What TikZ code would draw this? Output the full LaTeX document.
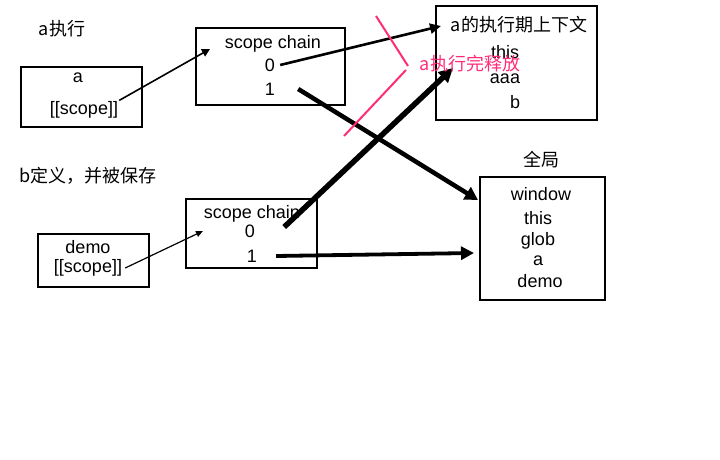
\documentclass[tikz,border=0pt]{standalone}
\usepackage{fontspec}
\setmainfont{Liberation Sans}
\newfontfamily\cjk{Noto Sans CJK SC}
\usetikzlibrary{arrows.meta}
\definecolor{releasepink}{RGB}{255,45,120}
\tikzstyle{frame}=[rectangle, draw, line width=2.5pt]
\tikzstyle{txt}=[inner sep=1pt, font=\fontsize{18}{21}\selectfont]
\tikzstyle{cjktxt}=[inner sep=1pt, font=\fontsize{18}{21}\selectfont\cjk]

\begin{document}
\begin{tikzpicture}[x=1pt, y=-1pt]
                    \useasboundingbox (0,0) rectangle (720,460);
                    % boxes
                    \node[frame, minimum width=121pt, minimum height=60pt] (abox) at (81.5,97) {};
                    \node[frame, minimum width=149pt, minimum height=77pt] (chaina) at (270.5,66.5) {};
                    \node[frame, minimum width=161pt, minimum height=114pt] (ctx) at (516.5,63) {};
                    \node[frame, minimum width=125pt, minimum height=123pt] (global) at (542.5,238.5) {};
                    \node[frame, minimum width=131pt, minimum height=69pt] (chainb) at (251.5,233.5) {};
                    \node[frame, minimum width=111pt, minimum height=53pt] (demobox) at (93.5,260.5) {};
                    % captions
                    \node[cjktxt] (runa) at (62,29) {a执行};
                    \node[cjktxt] (defb) at (88,176) {b定义，并被保存};
                    \node[cjktxt] (globtitle) at (541,160) {全局};
                    % texts in boxes
                    \node[txt] (aname) at (78,78) {a};
                    \node[txt] (ascope) at (84,110) {[[scope]]};
                    \node[txt] (chainatitle) at (273,44) {scope chain};
                    \node[txt] (chaina0) at (270,65) {0};
                    \node[txt] (chaina1) at (270,89) {1};
                    \node[cjktxt] (ctxtitle) at (519,25) {a的执行期上下文};
                    \node[txt] (ctxthis) at (505,52) {this};
                    \node[txt] (ctxaaa) at (505,79) {aaa};
                    \node[txt] (ctxb) at (515,102) {b};
                    \node[txt] (gwin) at (541,194) {window};
                    \node[txt] (gthis) at (538,218) {this};
                    \node[txt] (gglob) at (538,241) {glob};
                    \node[txt] (ga) at (538,261) {a};
                    \node[txt] (gdemo) at (540,281) {demo};
                    \node[txt] (chainbtitle) at (252,214) {scope chain};
                    \node[txt] (chainb0) at (250,231) {0};
                    \node[txt] (chainb1) at (252,256) {1};
                    \node[txt] (dname) at (88,247) {demo};
                    \node[txt] (dscope) at (88,268) {[[scope]]};
                    % arrow ends
                    \coordinate (a-in) at (210,49);
                    \coordinate (ctx-in) at (441,26);
                    \coordinate (ctx-low) at (453,68);
                    \coordinate (glob-top) at (478,200);
                    \coordinate (glob-mid) at (474,253);
                    \coordinate (b-in) at (203,231);
                    \draw[line width=1.6pt, -{Triangle[length=8pt,width=8pt]}]
                        (ascope.north east) -- (a-in);
                    \draw[line width=2.6pt, -{Triangle[length=11pt,width=10pt]}]
                        ([xshift=4pt]chaina0.east) -- (ctx-in);
                    \draw[line width=4.5pt, -{Triangle[length=13pt,width=14pt]}]
                        ([xshift=22pt]chaina1.east) -- (glob-top);
                    \draw[line width=5.5pt, -{Triangle[length=14pt,width=14pt]}]
                        ([xshift=28pt,yshift=4pt]chainb0.east) -- (ctx-low);
                    \draw[line width=3.8pt, -{Triangle[length=13pt,width=13pt]}]
                        ([xshift=18pt]chainb1.east) -- (glob-mid);
                    \draw[line width=1.2pt, -{Triangle[length=7pt,width=6pt]}]
                        ([xshift=2pt]dscope.east) -- (b-in);
                    % release mark
                    \coordinate (mark-top) at (376,16);
                    \coordinate (mark-tip) at (408,66);
                    \coordinate (mark-low) at (344,136);
                    \draw[releasepink, line width=2pt] (mark-top) -- (mark-tip);
                    \draw[releasepink, line width=2pt] ([shift={(-2,4)}]mark-tip) -- (mark-low);
                    \node[cjktxt, text=releasepink] (release) at (470,64) {a执行完释放};
                \end{tikzpicture}
\end{document}
